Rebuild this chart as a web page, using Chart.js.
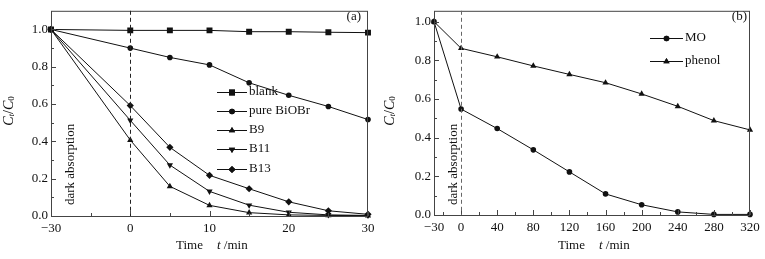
<!DOCTYPE html>
<html>
<head>
<meta charset="utf-8">
<script src="https://cdn.jsdelivr.net/npm/chart.js@4"></script>
<style>
  body { margin: 0; background: #fff; }
  #wrap { position: relative; width: 765px; height: 259px; }
  canvas { position: absolute; top: 0; }
</style>
</head>
<body>
<div id="wrap">
  <canvas id="chartA" width="382" height="259" style="left:0"></canvas>
  <canvas id="chartB" width="383" height="259" style="left:382px"></canvas>
</div>
<script>
// panel (a): time in min, C_t/C_0
const timeA = [-30, 0, 5, 10, 15, 20, 25, 30];
const blank = [1.0, 0.995, 0.995, 0.995, 0.988, 0.988, 0.985, 0.983];
const pureBiOBr = [1.0, 0.90, 0.85, 0.81, 0.714, 0.647, 0.587, 0.517];
const b9 = [1.0, 0.407, 0.159, 0.057, 0.018, 0.006, 0.003, 0.002];
const b11 = [1.0, 0.513, 0.273, 0.132, 0.058, 0.02, 0.006, 0.003];
const b13 = [1.0, 0.592, 0.368, 0.218, 0.146, 0.076, 0.028, 0.009];

// panel (b)
const timeB = [-30, 0, 40, 80, 120, 160, 200, 240, 280, 320];
const mo = [1.0, 0.548, 0.447, 0.337, 0.223, 0.109, 0.053, 0.016, 0.003, 0.003];
const phenol = [1.0, 0.862, 0.818, 0.771, 0.727, 0.684, 0.626, 0.562, 0.488, 0.44];

// tick labels
const majorXA = [-30, 0, 10, 20, 30];
const minorXA = [-15, 5, 15, 25];
const majorXB = [-30, 0, 40, 80, 120, 160, 200, 240, 280, 320];
const minorXB = [-20, 20, 60, 100, 140, 180, 220, 260, 300];
const majorY = [0, 0.2, 0.4, 0.6, 0.8, 1.0];
const minorY = [0.1, 0.3, 0.5, 0.7, 0.9];

const SERIF = "'Liberation Serif', 'DejaVu Serif', serif";
const INK = '#111';

// the dark period of panel (a) is drawn compressed (30 min shown as 10 units)
const mapA = t => (t < 0 ? t / 3 : t);
const mapB = t => t;

function drawYTitle(ctx, x, y) {
    ctx.save();
    ctx.translate(x, y);
    ctx.rotate(-Math.PI / 2);
    const parts = [
        { t: 'C', f: 'italic 14px ' + SERIF, dy: 0 },
        { t: 't', f: 'italic 9px ' + SERIF, dy: 3 },
        { t: '/', f: '14px ' + SERIF, dy: 0 },
        { t: 'C', f: 'italic 14px ' + SERIF, dy: 0 },
        { t: '0', f: '9px ' + SERIF, dy: 3 }
    ];
    let total = 0;
    parts.forEach(p => { ctx.font = p.f; p.w = ctx.measureText(p.t).width; total += p.w; });
    let cx = -total / 2;
    ctx.fillStyle = INK;
    ctx.textBaseline = 'middle';
    parts.forEach(p => { ctx.font = p.f; ctx.fillText(p.t, cx, p.dy); cx += p.w; });
    ctx.restore();
}

function framePlugin(cfg) {
    return {
        id: 'frame',
        afterDraw(chart) {
            const ctx = chart.ctx;
            const a = chart.chartArea;
            const xs = chart.scales.x, ys = chart.scales.y;
            ctx.save();
            // box
            ctx.strokeStyle = '#444';
            ctx.lineWidth = 1;
            ctx.strokeRect(a.left + 0.5, a.top + 0.5, a.right - a.left - 1, a.bottom - a.top);
            // inward ticks
            ctx.beginPath();
            cfg.majorX.forEach(v => { const px = Math.round(xs.getPixelForValue(cfg.mapX(v))) + 0.5; ctx.moveTo(px, a.bottom); ctx.lineTo(px, a.bottom - 5); });
            cfg.minorX.forEach(v => { const px = Math.round(xs.getPixelForValue(cfg.mapX(v))) + 0.5; ctx.moveTo(px, a.bottom); ctx.lineTo(px, a.bottom - 3); });
            majorY.forEach(v => { const py = Math.round(ys.getPixelForValue(v)) + 0.5; ctx.moveTo(a.left, py); ctx.lineTo(a.left + 5, py); });
            minorY.forEach(v => { const py = Math.round(ys.getPixelForValue(v)) + 0.5; ctx.moveTo(a.left, py); ctx.lineTo(a.left + 3, py); });
            ctx.stroke();
            // dashed line at t = 0
            const x0 = Math.round(xs.getPixelForValue(0)) + 0.5;
            ctx.strokeStyle = cfg.dashColor;
            ctx.setLineDash([4, 3]);
            ctx.beginPath();
            ctx.moveTo(x0, a.top);
            ctx.lineTo(x0, a.bottom);
            ctx.stroke();
            ctx.setLineDash([]);

            // texts
            ctx.fillStyle = INK;
            ctx.font = '13px ' + SERIF;
            ctx.textBaseline = 'middle';
            ctx.textAlign = 'right';
            ctx.fillText(cfg.tag, cfg.tagX, 17);
            ctx.textAlign = 'left';
            ctx.save();
            ctx.translate(cfg.darkX, 205);
            ctx.rotate(-Math.PI / 2);
            ctx.fillText('dark absorption', 0, 0);
            ctx.restore();

            // x title
            ctx.fillText('Time', 176, 246);
            ctx.font = 'italic 13px ' + SERIF;
            ctx.fillText('t', 217, 246);
            const tw = ctx.measureText('t').width;
            ctx.font = '13px ' + SERIF;
            ctx.fillText(' /min', 217 + tw, 246);

            drawYTitle(ctx, cfg.yTitleX, 111);

            // legend
            chart.data.datasets.forEach((ds, i) => {
                const y = cfg.legY[i];
                ctx.strokeStyle = INK;
                ctx.lineWidth = 1;
                ctx.beginPath();
                ctx.moveTo(cfg.legX0, y + 0.5);
                ctx.lineTo(cfg.legX1, y + 0.5);
                ctx.stroke();
                ctx.fillStyle = INK;
                Chart.helpers.drawPoint(ctx, {
                    pointStyle: ds.pointStyle, radius: ds.pointRadius,
                    rotation: ds.pointRotation || 0, borderWidth: 0
                }, (cfg.legX0 + cfg.legX1) / 2, y + 0.5);
                ctx.fill();
                ctx.font = '13px ' + SERIF;
                ctx.textAlign = 'left';
                ctx.fillText(ds.label, cfg.legX1 + 2, y);
            });
            ctx.restore();
        }
    };
}

function series(label, time, values, mapX, style, radius, rotation) {
    return {
        label: label,
        data: time.map((t, i) => ({ x: mapX(t), y: values[i] })),
        borderColor: INK,
        borderWidth: 1,
        backgroundColor: INK,
        pointStyle: style,
        pointRadius: radius,
        pointRotation: rotation || 0,
        pointBackgroundColor: INK,
        pointBorderWidth: 0,
        tension: 0,
        clip: 6
    };
}

function makePanel(canvasId, cfg) {
    const ctx = document.getElementById(canvasId).getContext('2d');
    new Chart(ctx, {
        type: 'line',
        data: { datasets: cfg.datasets },
        options: {
            responsive: false,
            animation: false,
            events: [],
            layout: { padding: { top: 8, right: cfg.padRight, left: 0, bottom: 0 } },
            plugins: { legend: { display: false }, tooltip: { enabled: false } },
            scales: {
                x: {
                    type: 'linear',
                    min: cfg.xMin, max: cfg.xMax,
                    grid: { display: false, drawTicks: false },
                    border: { display: false },
                    afterBuildTicks: s => { s.ticks = cfg.majorX.map(v => ({ value: cfg.mapX(v) })); },
                    afterFit: s => { s.height = cfg.xHeight; },
                    ticks: {
                        autoSkip: false, maxRotation: 0, padding: 5,
                        color: INK, font: { family: SERIF, size: 13 },
                        callback: (v, i) => String(cfg.majorX[i]).replace('-', '\u2212')
                    }
                },
                y: {
                    min: 0, max: cfg.yMax,
                    grid: { display: false, drawTicks: false },
                    border: { display: false },
                    afterBuildTicks: s => { s.ticks = majorY.map(v => ({ value: v })); },
                    afterFit: s => { s.width = cfg.yWidth; },
                    ticks: {
                        padding: 3, color: INK, font: { family: SERIF, size: 13 },
                        callback: v => v.toFixed(1)
                    }
                }
            }
        },
        plugins: [framePlugin(cfg)]
    });
}

makePanel('chartA', {
    datasets: [
        series('blank', timeA, blank, mapA, 'rect', 4.2),
        series('pure BiOBr', timeA, pureBiOBr, mapA, 'circle', 2.8),
        series('B9', timeA, b9, mapA, 'triangle', 3.6),
        series('B11', timeA, b11, mapA, 'triangle', 3.6, 180),
        series('B13', timeA, b13, mapA, 'rectRot', 3.6)
    ],
    mapX: mapA, majorX: majorXA, minorX: minorXA,
    xMin: -10, xMax: 30, yMax: 1.1,
    padRight: 14, xHeight: 43, yWidth: 51,
    dashColor: '#222', tag: '(a)', tagX: 361, darkX: 71, yTitleX: 9,
    legX0: 217, legX1: 247, legY: [92, 111, 130, 149, 169]
});

makePanel('chartB', {
    datasets: [
        series('MO', timeB, mo, mapB, 'circle', 2.8),
        series('phenol', timeB, phenol, mapB, 'triangle', 3.6)
    ],
    mapX: mapB, majorX: majorXB, minorX: minorXB,
    xMin: -30, xMax: 320, yMax: 1.056,
    padRight: 15, xHeight: 44, yWidth: 52,
    dashColor: '#666', tag: '(b)', tagX: 365, darkX: 72, yTitleX: 8,
    legX0: 268, legX1: 301, legY: [38, 61]
});
</script>
</body>
</html>
